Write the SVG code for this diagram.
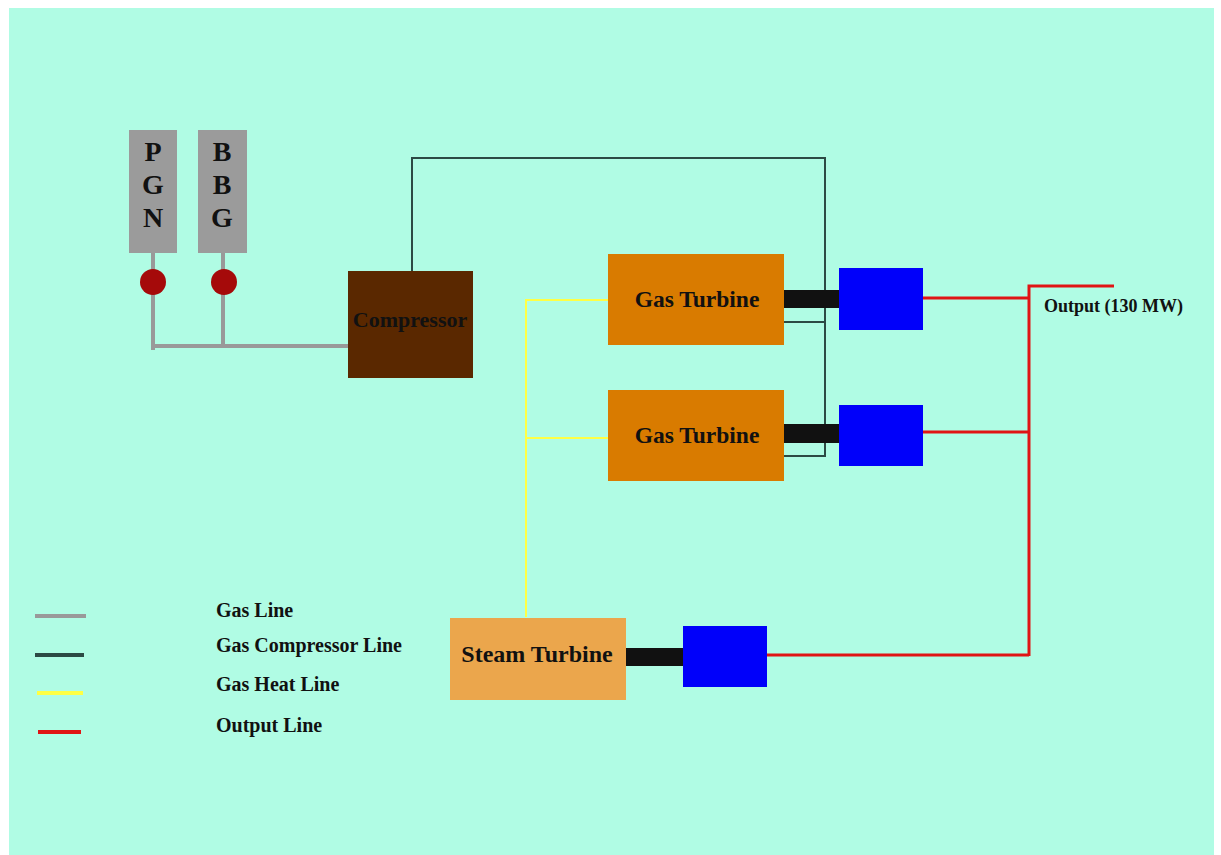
<svg xmlns="http://www.w3.org/2000/svg" width="1221" height="855" viewBox="0 0 1221 855">
<style>
text{font-family:"Liberation Serif","Times New Roman",serif;font-weight:bold;fill:#111}
.gas{stroke:#999;stroke-width:4;fill:none}
.comp{stroke:#2b4a44;stroke-width:2;fill:none}
.heat{stroke:#ffff44;stroke-width:2;fill:none}
.out{stroke:#e01414;stroke-width:3;fill:none}
.shaft{fill:#111}
.gen{fill:#0000fa}
.gt{fill:#d97b00}
.lg{font-size:20px}
</style>
<rect x="0" y="0" width="1221" height="855" fill="#ffffff"/>
<rect x="9" y="8" width="1205" height="847" fill="#b0fce4"/>

<g id="connectors">
  <path class="gas" d="M153 253V350M223 253V346M151 346H348"/>
  <path class="comp" d="M412 271V158H825V457M784 322H825M784 456H825"/>
  <path class="heat" d="M526 617V300H608M526 438H608"/>
  <path class="out" d="M923 298H1029M923 432H1029M767 655H1029M1029 656V286H1114"/>
</g>

<g id="pgn">
  <rect x="129" y="130" width="48" height="123" fill="#9b9b9b"/>
  <text x="153" y="161" font-size="28" text-anchor="middle">P</text>
  <text x="153" y="194" font-size="28" text-anchor="middle">G</text>
  <text x="153" y="227" font-size="28" text-anchor="middle">N</text>
</g>
<g id="bbg">
  <rect x="198" y="130" width="49" height="123" fill="#9b9b9b"/>
  <text x="222" y="161" font-size="28" text-anchor="middle">B</text>
  <text x="222" y="194" font-size="28" text-anchor="middle">B</text>
  <text x="222" y="227" font-size="28" text-anchor="middle">G</text>
</g>
<g id="valve1"><circle cx="153" cy="282" r="13" fill="#a50a0a"/></g>
<g id="valve2"><circle cx="224" cy="282" r="13" fill="#a50a0a"/></g>

<g id="compressor">
  <rect x="348" y="271" width="125" height="107" fill="#5a2800"/>
  <text x="410" y="327" font-size="22" text-anchor="middle">Compressor</text>
</g>

<g id="gt1">
  <rect class="gt" x="608" y="254" width="176" height="91"/>
  <text x="697" y="307" font-size="23.5" text-anchor="middle">Gas Turbine</text>
</g>
<g id="gt2">
  <rect class="gt" x="608" y="390" width="176" height="91"/>
  <text x="697" y="443" font-size="23.5" text-anchor="middle">Gas Turbine</text>
</g>
<g id="shaft1"><rect class="shaft" x="784" y="290" width="55" height="18"/></g>
<g id="shaft2"><rect class="shaft" x="784" y="424" width="55" height="19"/></g>
<g id="gen1"><rect class="gen" x="839" y="268" width="84" height="62"/></g>
<g id="gen2"><rect class="gen" x="839" y="405" width="84" height="61"/></g>

<g id="st">
  <rect x="450" y="618" width="176" height="82" fill="#eba64c"/>
  <text x="537" y="662" font-size="24" text-anchor="middle">Steam Turbine</text>
</g>
<g id="shaft3"><rect class="shaft" x="626" y="648" width="57" height="18"/></g>
<g id="gen3"><rect class="gen" x="683" y="626" width="84" height="61"/></g>

<g id="output-label"><text x="1044" y="312" font-size="18">Output (130 MW)</text></g>

<g id="legend">
  <line x1="35" y1="616" x2="86" y2="616" stroke="#999" stroke-width="4"/>
  <line x1="35" y1="655" x2="84" y2="655" stroke="#2b4a44" stroke-width="4"/>
  <line x1="37" y1="693" x2="83" y2="693" stroke="#ffff44" stroke-width="4"/>
  <line x1="38" y1="732" x2="81" y2="732" stroke="#e01414" stroke-width="4"/>
  <text class="lg" x="216" y="617">Gas Line</text>
  <text class="lg" x="216" y="652">Gas Compressor Line</text>
  <text class="lg" x="216" y="691">Gas Heat Line</text>
  <text class="lg" x="216" y="732">Output Line</text>
</g>
</svg>
